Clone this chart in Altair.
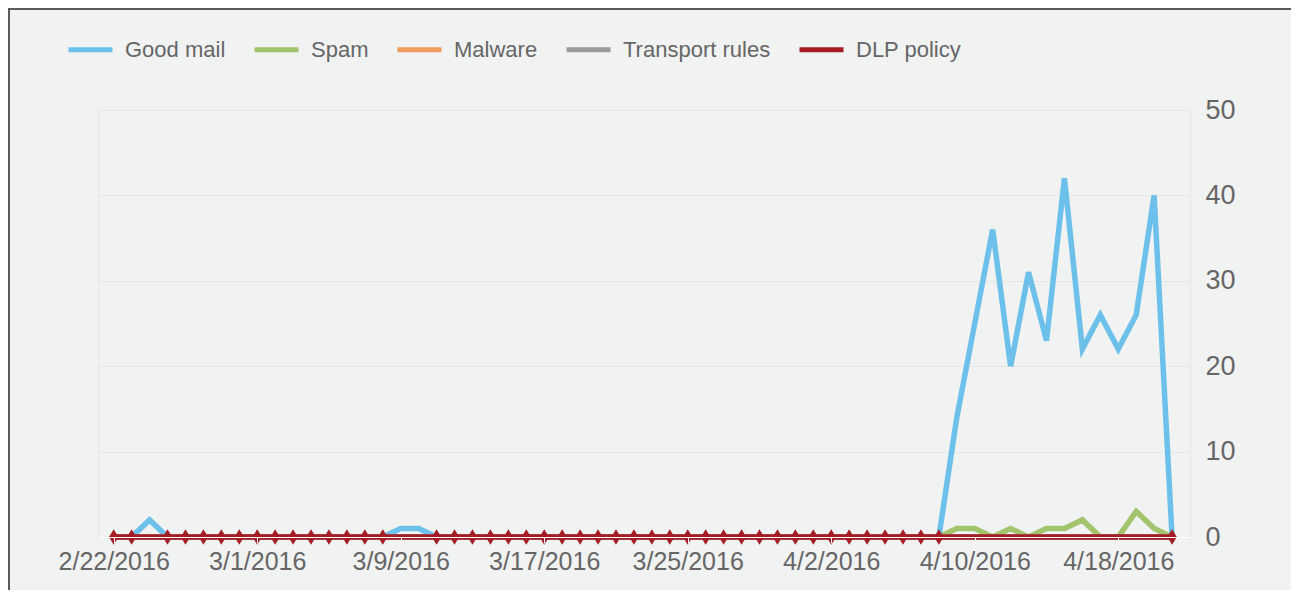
import altair as alt
import pandas as pd

start_date = "2016-02-22"
n_days = 60
dates = pd.date_range(start_date, periods=n_days, freq="D").strftime("%Y-%m-%d").tolist()

series_names = ["Good mail", "Spam", "Malware", "Transport rules", "DLP policy"]
series_colors = ["#6cc0ea", "#a2c46c", "#ee9b5c", "#9a9a9a", "#a51c27"]

good_mail = [0, 0, 2, 0, 0, 0, 0, 0, 0, 0,
             0, 0, 0, 0, 0, 0, 1, 1, 0, 0,
             0, 0, 0, 0, 0, 0, 0, 0, 0, 0,
             0, 0, 0, 0, 0, 0, 0, 0, 0, 0,
             0, 0, 0, 0, 0, 0, 0, 14, 25, 36,
             20, 31, 23, 42, 22, 26, 22, 26, 40, 0]
spam = [0] * 47 + [1, 1, 0, 1, 0, 1, 1, 2, 0, 0, 3, 1, 0]
malware = [0] * 60
transport_rules = [0] * 60
dlp_policy = [0] * 60

x_tick_dates = ["2016-02-22", "2016-03-01", "2016-03-09", "2016-03-17",
                "2016-03-25", "2016-04-02", "2016-04-10", "2016-04-18"]
y_ticks = [0, 10, 20, 30, 40, 50]

FONT = "Liberation Sans, Arial, sans-serif"
TEXT = "#666666"

rows = []
for name, vals in zip(series_names, [good_mail, spam, malware, transport_rules, dlp_policy]):
    for d, v in zip(dates, vals):
        rows.append({"date": d, "series": name, "value": v})
long_df = pd.DataFrame(rows)

marker_df = pd.DataFrame({"date": dates, "value": dlp_policy, "good": good_mail})
marker_df = marker_df[marker_df["good"] == 0]

def dt(s, h=0):
    y, m, d = [int(p) for p in s.split("-")]
    return alt.DateTime(year=y, month=m, date=d, hours=h, utc=True)

x_scale = alt.Scale(type="utc", domain=[dt("2016-02-21", 3), dt("2016-04-22", 0)])
y_scale = alt.Scale(domain=[0, 50])

x_enc = alt.X("date:T", scale=x_scale, title=None,
              axis=alt.Axis(values=[dt(s) for s in x_tick_dates], format="%-m/%-d/%Y",
                            labelFontSize=25, labelColor=TEXT, labelFont=FONT,
                            domainColor="white", domainWidth=1, tickColor="white",
                            tickSize=6, tickWidth=1, labelPadding=6, grid=False,
                            zindex=1, labelOverlap=False))
y_enc = alt.Y("value:Q", scale=y_scale, title=None,
              axis=alt.Axis(orient="right", values=y_ticks, labelFontSize=27,
                            labelColor=TEXT, labelFont=FONT, domain=False, ticks=False,
                            labelPadding=15, grid=True, gridColor="#e4e6e6",
                            labelAlign="left"))

lines = alt.Chart(long_df).mark_line(strokeWidth=5.5, strokeJoin="miter").encode(
    x=x_enc,
    y=y_enc,
    color=alt.Color("series:N", scale=alt.Scale(domain=series_names, range=series_colors),
                    sort=series_names,
                    legend=alt.Legend(orient="none", direction="horizontal", title=None,
                                      legendX=-32, legendY=-85, symbolType="stroke",
                                      symbolStrokeWidth=5, symbolSize=1936,
                                      labelFontSize=22, labelFont=FONT, labelColor=TEXT,
                                      labelOffset=10, columnPadding=18, padding=0,
                                      labelLimit=400)),
    order=alt.Order("order_idx:Q"),
    detail="series:N",
).transform_calculate(
    order_idx="indexof(['Good mail','Spam','Malware','Transport rules','DLP policy'], datum.series)"
)

markers = alt.Chart(marker_df).mark_point(
    filled=True, color="#a51c27", opacity=1,
    shape="M0,-1.3L0.8,0L0,1.3L-0.8,0Z", size=140
).encode(x=alt.X("date:T", scale=x_scale), y=alt.Y("value:Q", scale=y_scale))

left_border = alt.Chart(pd.DataFrame({"a": [0]})).mark_rule(color="#5a5a5a", strokeWidth=2).encode(
    x=alt.value(-89), y=alt.value(-102), y2=alt.value(480))
top_border = alt.Chart(pd.DataFrame({"a": [0]})).mark_rule(color="#5a5a5a", strokeWidth=2).encode(
    x=alt.value(-90), x2=alt.value(1193), y=alt.value(-101))

chart = alt.layer(lines, markers, left_border, top_border).properties(
    width=1092, height=427,
    autosize=alt.AutoSizeParams(type="none"),
    padding={"left": 90, "top": 102, "right": 101, "bottom": 53},
    background="#f1f2f2",
).configure_view(stroke="#e4e6e6", strokeWidth=1)

chart.save("out.html", embed_options={"renderer": "svg", "actions": False})
